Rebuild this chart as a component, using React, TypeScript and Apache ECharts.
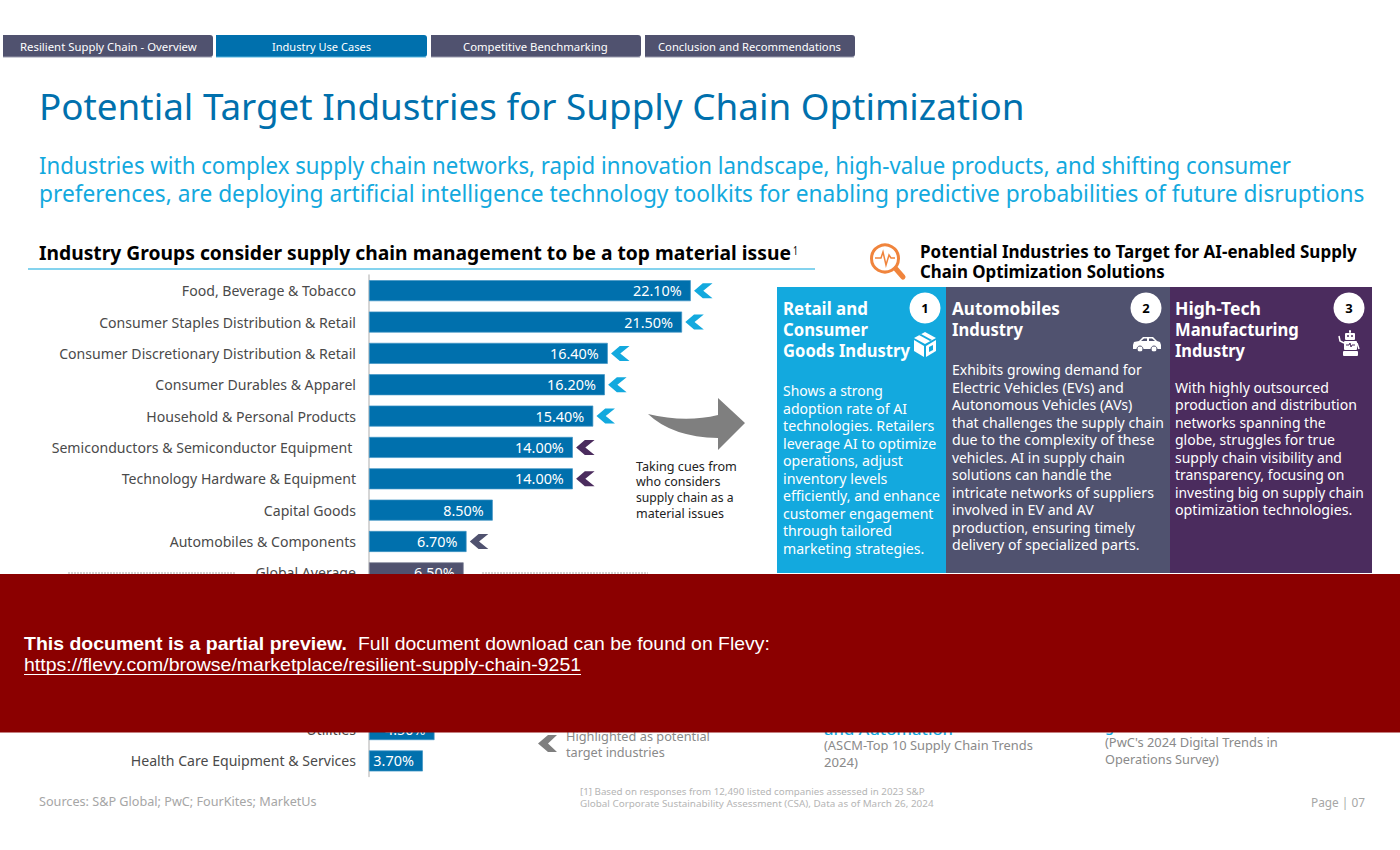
import React, { useEffect, useRef } from "react";
import * as echarts from "echarts";

const categories = [
  "Food, Beverage & Tobacco",
  "Consumer Staples Distribution & Retail",
  "Consumer Discretionary Distribution & Retail",
  "Consumer Durables & Apparel",
  "Household & Personal Products",
  "Semiconductors & Semiconductor Equipment ",
  "Technology Hardware & Equipment",
  "Capital Goods",
  "Automobiles & Components",
  "Global Average",
  "", "", "", "",
  "Utilities",
  "Health Care Equipment & Services",
];
const values: (number | null)[] = [22.1, 21.5, 16.4, 16.2, 15.4, 14.0, 14.0, 8.5, 6.7, 6.5, null, null, null, null, 4.5, 3.7];
const flags: (string | null)[] = ["retail", "retail", "retail", "retail", "retail", "tech", "tech", null, "auto", null, null, null, null, null, null, null];

const BLUE = "#0070AD";
const SKY = "#13A9DE";
const SLATE = "#50526F";
const PURPLE = "#4B2C5E";
const GREY = "#8A8A8A";
const flagColor: Record<string, string> = { retail: SKY, tech: PURPLE, auto: SLATE };

const F = "Noto Sans";
const canvas = document.createElement("canvas");
const ctx = canvas.getContext("2d")!;

function T(text: string, x: number, y: number, endX: number, font: string, fill: string, z = 50) {
  ctx.font = font;
  const w = ctx.measureText(text).width || 1;
  return {
    type: "text", x, y, z, scaleX: (endX - x) / w, silent: true,
    style: { text, font, fill, verticalAlign: "middle", align: "left" },
  };
}

const tabLabels = ["Resilient Supply Chain - Overview", "Industry Use Cases", "Competitive Benchmarking", "Conclusion and Recommendations"];
const tabBoxes = [[3, 213], [216, 427], [431, 641], [645, 855]];
const tabText = [[20, 197], [272, 371], [463, 608], [658, 841]];

const titleText = "Potential Target Industries for Supply Chain Optimization";
const subLines = [
  "Industries with complex supply chain networks, rapid innovation landscape, high-value products, and shifting consumer",
  "preferences, are deploying artificial intelligence technology toolkits for enabling predictive probabilities of future disruptions",
];
const sectionLeft = "Industry Groups consider supply chain management to be a top material issue";
const sectionRight = ["Potential Industries to Target for AI-enabled Supply", "Chain Optimization Solutions"];

const card1Title = ["Retail and", "Consumer", "Goods Industry"];
const card1TitleEnd = [868, 868, 910];
const card2Title = ["Automobiles", "Industry"];
const card2TitleEnd = [1060, 1023];
const card3Title = ["High-Tech", "Manufacturing", "Industry"];
const card3TitleEnd = [1261, 1299, 1245];

const card1Body = ["Shows a strong", "adoption rate of AI", "technologies. Retailers", "leverage AI to optimize", "operations, adjust", "inventory levels", "efficiently, and enhance", "customer engagement", "through tailored", "marketing strategies."];
const card1End = [883, 907, 934.6, 936.5, 903, 887.5, 940, 933.5, 892, 924.5];
const card1Y = [391, 409, 426, 444, 461, 479, 496, 514, 531, 549];
const card2Body = ["Exhibits growing demand for", "Electric Vehicles (EVs) and", "Autonomous Vehicles (AVs)", "that challenges the supply chain", "due to the complexity of these", "vehicles. AI in supply chain", "solutions can handle the", "intricate networks of suppliers", "involved in EV and AV", "production, ensuring timely", "delivery of specialized parts."];
const card2End = [1142, 1124, 1132.6, 1164, 1154.5, 1125, 1111.6, 1154, 1094, 1135, 1139.6];
const card2Y = [370, 388, 405, 423, 440, 458, 475, 493, 510, 528, 545];
const card3Body = ["With highly outsourced", "production and distribution", "networks spanning the", "globe, struggles for true", "supply chain visibility and", "transparency, focusing on", "investing big on supply chain", "optimization technologies."];
const card3End = [1329, 1357, 1325.6, 1335, 1342, 1344.7, 1364, 1352.5];
const card3Y = [388, 405, 423, 440, 458, 475, 493, 510];

const cueLines = ["Taking cues from", "who considers", "supply chain as a", "material issues"];
const cueEnd = [737, 720.5, 733.7, 724];
const cueY = [467, 482, 498, 514];

echarts.graphic.registerShape(
  "curvedArrow",
  echarts.graphic.extendPath("M648 414 Q685 423 718 415 L718 398 L745 423 L718 450 L718 438 Q672 437 648 414 Z", {})
);
echarts.graphic.registerShape(
  "chevronMark",
  echarts.graphic.extendPath("M548 735 L557 735 L548 743.5 L557 752 L548 752 L538 743.5 Z", {})
);

function buildGraphics() {
  const g: any[] = [];
  const white = "#FFFFFF";
  // tabs
  tabBoxes.forEach(([a, b], i) => {
    const c = i === 1 ? BLUE : SLATE;
    g.push({ type: "rect", z: 10, silent: true, shape: { x: a, y: 35, width: b - a, height: 22, r: [0, 3, 3, 0] }, style: { fill: c } });
    g.push({ type: "line", z: 11, silent: true, shape: { x1: a, y1: 57, x2: b - 1, y2: 57 }, style: { stroke: i === 1 ? "#55B5DE" : "#9A9BAE", lineWidth: 1 } });
    g.push(T(tabLabels[i], tabText[i][0], 46.5, tabText[i][1], `400 11.5px '${F}'`, white));
  });
  // headings
  g.push(T(titleText, 39, 106, 1025, `400 36px '${F}'`, BLUE));
  g.push(T(subLines[0], 39, 165, 1291, `400 23px '${F}'`, SKY));
  g.push(T(subLines[1], 39, 193, 1364, `400 23px '${F}'`, SKY));
  g.push(T(sectionLeft, 39, 253.5, 791, `700 19px '${F}'`, "#000000"));
  g.push(T("1", 793, 250, 798, `400 12px '${F}'`, "#000000"));
  g.push({ type: "line", z: 10, silent: true, shape: { x1: 28, y1: 269, x2: 815, y2: 269 }, style: { stroke: "#5BC4E8", lineWidth: 1.5 } });
  g.push(T(sectionRight[0], 920, 251.5, 1357, `700 17px '${F}'`, "#000000"));
  g.push(T(sectionRight[1], 920, 271.5, 1165, `700 17px '${F}'`, "#000000"));

  // magnifier icon
  const OR = "#F0843C";
  g.push({ type: "circle", z: 10, silent: true, shape: { cx: 885, cy: 258.5, r: 13.5 }, style: { fill: "transparent", stroke: OR, lineWidth: 3 } });
  g.push({ type: "line", z: 10, silent: true, shape: { x1: 896, y1: 269, x2: 903, y2: 277 }, style: { stroke: OR, lineWidth: 5, lineCap: "round" } });
  g.push({ type: "polyline", z: 10, silent: true, shape: { points: [[875, 258], [881, 258], [883, 252], [886, 265], [889, 255], [891, 258], [895, 258]] }, style: { fill: "none", stroke: OR, lineWidth: 1.5 } });

  // dashed lines either side of the average
  [[68, 236], [482, 648]].forEach(([a, b]) =>
    g.push({ type: "line", z: 10, silent: true, shape: { x1: a, y1: 573, x2: b, y2: 573 }, style: { stroke: "#A8A8A8", lineWidth: 1, lineDash: [2, 1] } })
  );

  // arrow and cue
  g.push({ type: "curvedArrow", z: 10, silent: true, style: { fill: "#7F7F7F" } });
  cueLines.forEach((t, i) => g.push(T(t, 636, cueY[i] - 0.5, cueEnd[i], `400 12px '${F}'`, "#222222")));

  // cards
  [[777, 946, SKY], [946, 1170, SLATE], [1170, 1372, PURPLE]].forEach(([a, b, c]: any) =>
    g.push({ type: "rect", z: 10, silent: true, shape: { x: a, y: 287, width: b - a, height: 286 }, style: { fill: c } })
  );
  const titleY = [308.5, 329.5, 350.5];
  const tf = `700 17px '${F}'`;
  card1Title.forEach((t, i) => g.push(T(t, 783, titleY[i], card1TitleEnd[i], tf, white)));
  card2Title.forEach((t, i) => g.push(T(t, 952, titleY[i], card2TitleEnd[i], tf, white)));
  card3Title.forEach((t, i) => g.push(T(t, 1175, titleY[i], card3TitleEnd[i], tf, white)));
  const bf = `400 14px '${F}'`;
  card1Body.forEach((t, i) => g.push(T(t, 783, card1Y[i] - 0.5, card1End[i], bf, white)));
  card2Body.forEach((t, i) => g.push(T(t, 952, card2Y[i] - 0.5, card2End[i], bf, white)));
  card3Body.forEach((t, i) => g.push(T(t, 1175, card3Y[i] - 0.5, card3End[i], bf, white)));
  [[925, "1"], [1146, "2"], [1349, "3"]].forEach(([cx, n]: any) => {
    g.push({ type: "circle", z: 20, silent: true, shape: { cx, cy: 308, r: 15.5 }, style: { fill: white } });
    g.push({ type: "text", z: 21, silent: true, x: cx, y: 308, style: { text: n, font: `700 13px '${F}'`, fill: "#000000", align: "center", verticalAlign: "middle" } });
  });

  // box icon
  const poly = (points: number[][], fill: string) => ({ type: "polygon", z: 20, silent: true, shape: { points }, style: { fill } });
  g.push(poly([[925, 332], [936, 338], [925, 344], [914, 338]], white));
  g.push(poly([[914, 340], [924, 346], [924, 357], [914, 351]], white));
  g.push(poly([[926, 346], [936, 340], [936, 351], [926, 357]], white));
  g.push(poly([[919, 335], [921, 334], [932, 340], [930, 341]], SKY));
  g.push(poly([[929, 347], [933, 345], [933, 350], [929, 352]], SKY));
  // car icon
  g.push(poly([[1133, 345], [1134, 342], [1139, 341], [1143, 337], [1153, 337], [1157, 341], [1160, 342], [1161, 345], [1161, 349], [1133, 349]], white));
  g.push(poly([[1141, 341], [1144, 338.5], [1147, 338.5], [1147, 341]], SLATE));
  g.push(poly([[1149, 341], [1149, 338.5], [1152, 338.5], [1155, 341]], SLATE));
  [1140, 1154].forEach((cx) => {
    g.push({ type: "circle", z: 21, silent: true, shape: { cx, cy: 349, r: 3 }, style: { fill: white, stroke: SLATE, lineWidth: 1 } });
  });
  // robot icon
  const rect = (x: number, y: number, width: number, height: number, fill: string) => ({ type: "rect", z: 20, silent: true, shape: { x, y, width, height, r: 1 }, style: { fill } });
  g.push(rect(1349, 330, 2, 3, white));
  g.push(rect(1345, 333, 10, 7, white));
  g.push(rect(1347, 335, 2, 2, PURPLE));
  g.push(rect(1351, 335, 2, 2, PURPLE));
  g.push(rect(1344, 341, 13, 9, white));
  g.push(rect(1343, 351, 15, 5, white));
  g.push({ type: "polyline", z: 21, silent: true, shape: { points: [[1346, 345], [1349, 345], [1350, 343], [1351, 347], [1352, 345], [1355, 345]] }, style: { fill: "none", stroke: PURPLE, lineWidth: 1 } });
  g.push({ type: "polyline", z: 20, silent: true, shape: { points: [[1339, 336], [1340, 341], [1344, 343]] }, style: { fill: "none", stroke: white, lineWidth: 1.5 } });
  g.push({ type: "polyline", z: 20, silent: true, shape: { points: [[1357, 343], [1359, 349]] }, style: { fill: "none", stroke: white, lineWidth: 1.5 } });

  // lower legend and notes
  g.push({ type: "chevronMark", z: 10, silent: true, style: { fill: "#7F7F7F" } });
  const grey13 = `400 12px '${F}'`;
  g.push(T("Highlighted as potential", 566, 736.5, 710, grey13, GREY));
  g.push(T("target industries", 566, 752.5, 665, grey13, GREY));
  g.push(T("and Automation", 824, 729.5, 953, `500 15px '${F}'`, "#0FA8E0"));
  g.push(T("(ASCM-Top 10 Supply Chain Trends", 824, 745.5, 1033, grey13, GREY));
  g.push(T("2024)", 824, 762.5, 858, grey13, GREY));
  g.push(T("g", 1105, 726, 1114, `500 15px '${F}'`, "#0FA8E0"));
  g.push(T("(PwC's 2024 Digital Trends in", 1105, 742.5, 1278, grey13, GREY));
  g.push(T("Operations Survey)", 1105, 759.5, 1219, grey13, GREY));

  // footer
  g.push(T("Sources: S&P Global; PwC; FourKites; MarketUs", 39, 802, 317, grey13, "#A6A6A6"));
  g.push(T("[1] Based on responses from 12,490 listed companies assessed in 2023 S&P", 580, 792, 925, `400 9.5px '${F}'`, "#B5B5B5"));
  g.push(T("Global Corporate Sustainability Assessment (CSA), Data as of March 26, 2024", 580, 804, 934, `400 9.5px '${F}'`, "#B5B5B5"));
  g.push(T("Page | 07", 1311, 802, 1365, grey13, "#A6A6A6"));

  // preview banner
  g.push({ type: "rect", z: 100, silent: true, shape: { x: 0, y: 574, width: 1400, height: 158.5 }, style: { fill: "#8B0000" } });
  const L = "Liberation Sans";
  g.push(T("This document is a partial preview.", 24, 644, 347, `700 18px '${L}'`, white, 101));
  g.push(T("Full document download can be found on Flevy:", 358, 644, 770, `400 18px '${L}'`, white, 101));
  g.push(T("https://flevy.com/browse/marketplace/resilient-supply-chain-9251", 24, 665, 581, `400 18px '${L}'`, white, 101));
  g.push({ type: "line", z: 101, silent: true, shape: { x1: 24, y1: 674.5, x2: 581, y2: 674.5 }, style: { stroke: white, lineWidth: 1 } });
  return g;
}

export default function App() {
  const ref = useRef<HTMLDivElement>(null);
  useEffect(() => {
    const chart = echarts.init(ref.current!, null, { renderer: "svg" });
    chart.setOption({
      animation: false,
      backgroundColor: "#FFFFFF",
      grid: { left: 369, top: 275, width: 364, height: 501.6, containLabel: false },
      xAxis: { type: "value", min: 0, max: 25, show: false },
      yAxis: {
        type: "category",
        inverse: true,
        data: categories,
        axisTick: { show: false },
        axisLine: { show: true, lineStyle: { color: "#C8C8C8", width: 1.5 } },
        axisLabel: { interval: 0, margin: 13, fontFamily: F, fontSize: 14.1, color: "#4A4A4A", padding: [0, 0, 1, 0] },
      },
      series: [
        {
          type: "bar",
          barWidth: 21,
          data: values.map((v, i) => ({
            value: v,
            itemStyle: {
              color: categories[i] === "Global Average" ? SLATE : BLUE,
              borderColor: categories[i] === "Global Average" ? "#7A7C92" : "#3F94C4",
              borderWidth: 0.7,
            },
          })),
          label: {
            show: true,
            position: "insideRight",
            distance: 9,
            color: "#FFFFFF",
            fontFamily: F,
            fontSize: 14.4,
            formatter: (p: any) => `${Number(p.value).toFixed(2)}%`,
          },
        },
        {
          type: "scatter",
          symbol: "path://M9 0 L19 0 L9.5 7.5 L19 15 L9 15 L0 7.5 Z",
          symbolSize: [18.5, 15],
          symbolOffset: [12.5, 0],
          silent: true,
          z: 3,
          itemStyle: { opacity: 1 },
          data: values
            .map((v, i) => ({ v, i, f: flags[i] }))
            .filter((d) => d.f)
            .map((d) => ({ value: [d.v, d.i], itemStyle: { color: flagColor[d.f as string], opacity: 1 } })),
        },
      ],
      graphic: { elements: buildGraphics() },
    });
    return () => chart.dispose();
  }, []);
  return <div ref={ref} style={{ position: "absolute", left: 0, top: 0, width: 1400, height: 850 }} />;
}
